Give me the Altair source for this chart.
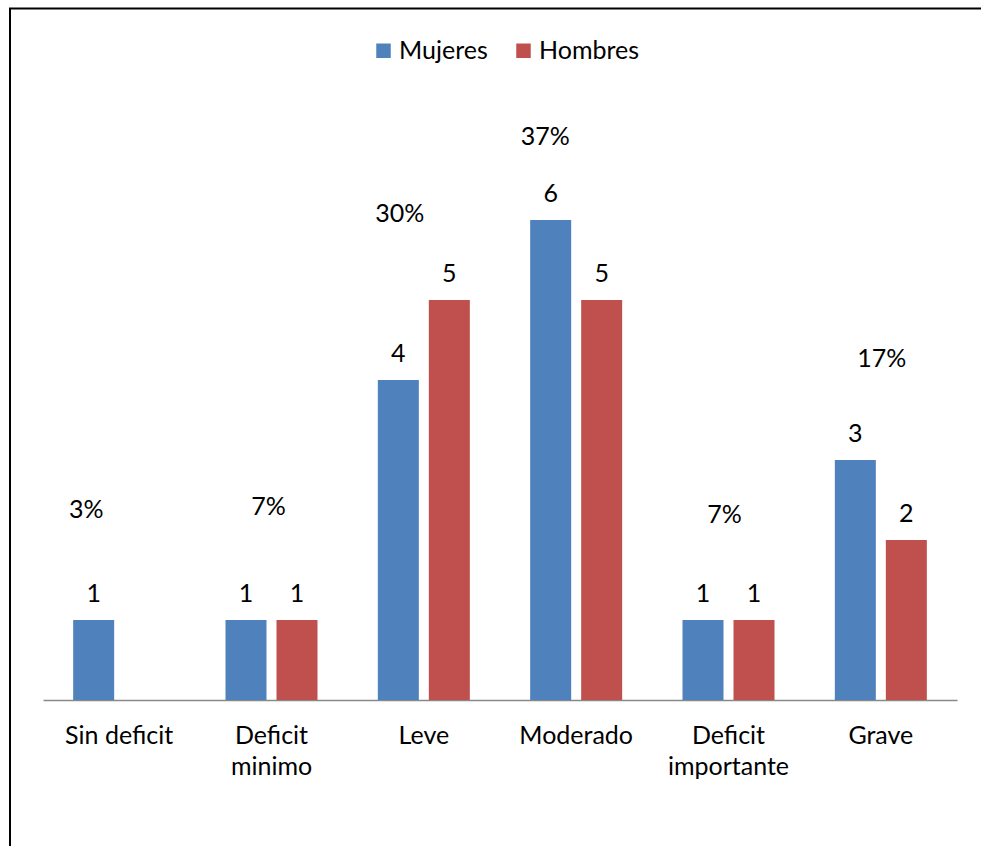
import altair as alt
import pandas as pd

# Counts per deficit level, split by sex
categories = ["Sin deficit", "Deficit minimo", "Leve", "Moderado", "Deficit importante", "Grave"]
mujeres = [1, 1, 4, 6, 1, 3]
hombres = [0, 1, 5, 5, 1, 2]
series = ["Mujeres", "Hombres"]
colors = ["#4F81BD", "#C0504D"]

# Placement of the share-of-total annotations (pixel nudge, height in count units)
pct_nudge_px = [-33, -3, -24, -31, -4, 1]
pct_level = [2.28, 2.31, 5.97, 6.94, 2.21, 4.16]

FONT = "Lato"
FS = 25

# Band geometry: plot width and category padding
WIDTH = 914
PAD_INNER = 0.396
SUB_PAD = 0.196
group_w = WIDTH / len(categories) * (1 - PAD_INNER)

rows = []
for cat, m, h in zip(categories, mujeres, hombres):
    rows.append({"categoria": cat, "sexo": "Mujeres", "n": m})
    rows.append({"categoria": cat, "sexo": "Hombres", "n": h})
df = pd.DataFrame(rows)

total = sum(mujeres) + sum(hombres)
pct_df = pd.DataFrame({
    "categoria": categories,
    "pct": [f"{round(100 * (m + h) / total)}%" for m, h in zip(mujeres, hombres)],
    "nivel": pct_level,
    "nudge": pct_nudge_px,
})

x_enc = alt.X(
    "categoria:N",
    sort=categories,
    scale=alt.Scale(paddingInner=PAD_INNER, paddingOuter=PAD_INNER / 2),
    axis=alt.Axis(
        title=None,
        labelAngle=0,
        ticks=False,
        tickSize=0,
        domainColor="#898989",
        domainWidth=1.5,
        labelFont=FONT,
        labelFontSize=FS,
        labelColor="black",
        labelBaseline="alphabetic",
        labelPadding=43,
        labelLineHeight=31,
        labelExpr="indexof(datum.label, 'Deficit ') == 0 ? split(datum.label, ' ') : datum.label",
    ),
)
y_scale = alt.Scale(domain=[0, 7], nice=False)
xoff_scale = alt.Scale(type="band", domain=series, paddingInner=SUB_PAD, paddingOuter=0)

base = alt.Chart(df).transform_filter("datum.n > 0")

bars = base.mark_bar().encode(
    x=x_enc,
    xOffset=alt.XOffset("sexo:N", sort=series, scale=xoff_scale),
    y=alt.Y("n:Q", scale=y_scale, axis=None),
    color=alt.Color(
        "sexo:N",
        sort=series,
        scale=alt.Scale(domain=series, range=colors),
        legend=alt.Legend(title=None),
    ),
)

values = base.mark_text(
    font=FONT, fontSize=FS, color="black", baseline="alphabetic", dy=-18
).encode(
    x=alt.X("categoria:N", sort=categories),
    xOffset=alt.XOffset("sexo:N", sort=series, scale=xoff_scale),
    y=alt.Y("n:Q", scale=y_scale),
    text="n:Q",
)

pcts = alt.Chart(pct_df).mark_text(
    font=FONT, fontSize=FS, color="black", baseline="alphabetic", dx=group_w / 2
).encode(
    x=alt.X("categoria:N", sort=categories),
    xOffset=alt.XOffset("nudge:Q", scale=None),
    y=alt.Y("nivel:Q", scale=y_scale),
    text="pct:N",
)

frame = alt.Chart(pd.DataFrame({"k": [0]})).mark_rect(
    fillOpacity=0, stroke="black", strokeWidth=2
).encode(
    x=alt.value(-33), x2=alt.value(990), y=alt.value(-131.5), y2=alt.value(760)
)

chart = (
    alt.layer(frame, bars, values, pcts)
    .resolve_scale(xOffset="independent")
    .properties(
        width=WIDTH,
        height=560,
        autosize=alt.AutoSizeParams(type="none"),
        padding={"left": 43, "top": 140, "right": 24, "bottom": 146},
        background="white",
    )
    .configure_view(stroke=None)
    .configure_legend(
        orient="none",
        legendX=328,
        legendY=-102,
        direction="horizontal",
        symbolType="square",
        symbolSize=210,
        symbolStrokeWidth=0,
        labelFont=FONT,
        labelFontSize=FS,
        labelColor="black",
        labelOffset=3,
        columnPadding=23,
    )
)

chart.save("out.html", embed_options={"renderer": "svg", "actions": False})
